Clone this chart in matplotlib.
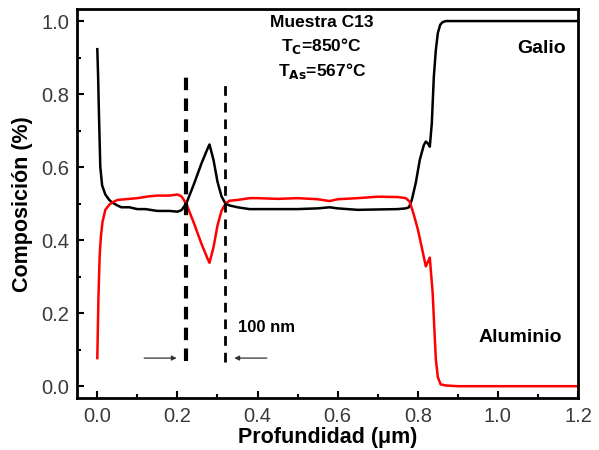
import matplotlib.pyplot as plt

plt.rcParams['font.family'] = ['Liberation Sans', 'DejaVu Sans']

# Galio (negro)
prof_ga = [0.0, 0.002, 0.004, 0.0075, 0.012, 0.02, 0.03, 0.037, 0.05, 0.06, 0.08, 0.1, 0.12,
           0.15, 0.18, 0.2, 0.21, 0.222, 0.24, 0.26, 0.275, 0.28, 0.29, 0.3, 0.31, 0.32, 0.33,
           0.35, 0.38, 0.4, 0.45, 0.5, 0.55, 0.58, 0.6, 0.65, 0.7, 0.75, 0.77, 0.778, 0.785,
           0.795, 0.805, 0.815, 0.82, 0.825, 0.83, 0.835, 0.84, 0.845, 0.85, 0.856, 0.862, 0.87,
           0.9, 1.0, 1.1, 1.2]
comp_ga = [0.923, 0.85, 0.75, 0.6, 0.55, 0.525, 0.51, 0.503, 0.495, 0.49, 0.49, 0.485, 0.485,
           0.48, 0.48, 0.478, 0.482, 0.5, 0.55, 0.61, 0.65, 0.662, 0.62, 0.56, 0.52, 0.5, 0.495,
           0.49, 0.485, 0.485, 0.485, 0.485, 0.487, 0.49, 0.487, 0.483, 0.484, 0.485, 0.487, 0.49, 0.51,
           0.557, 0.62, 0.66, 0.67, 0.665, 0.656, 0.72, 0.847, 0.92, 0.967, 0.99, 0.997, 1.0,
           1.0, 1.0, 1.0, 1.0]

# Aluminio (rojo)
prof_al = [0.0, 0.003, 0.006, 0.009, 0.013, 0.02, 0.03, 0.037, 0.05, 0.07, 0.1, 0.13, 0.15,
           0.18, 0.2, 0.21, 0.222, 0.24, 0.26, 0.275, 0.28, 0.29, 0.3, 0.31, 0.32, 0.33, 0.35,
           0.38, 0.4, 0.45, 0.5, 0.55, 0.58, 0.6, 0.65, 0.7, 0.75, 0.77, 0.78, 0.79, 0.8,
           0.81, 0.82, 0.825, 0.83, 0.837, 0.845, 0.85, 0.857, 0.87, 0.9,
           1.0, 1.1, 1.2]
comp_al = [0.077, 0.25, 0.36, 0.41, 0.45, 0.483, 0.497, 0.503, 0.51, 0.512, 0.515, 0.52, 0.522,
           0.522, 0.525, 0.52, 0.5, 0.45, 0.39, 0.35, 0.338, 0.38, 0.44, 0.48, 0.5, 0.508, 0.51,
           0.515, 0.515, 0.513, 0.515, 0.512, 0.507, 0.512, 0.515, 0.519, 0.518, 0.515, 0.505, 0.47, 0.43,
           0.38, 0.328, 0.34, 0.352, 0.257, 0.074, 0.025, 0.005, 0.002, 0.0,
           0.0, 0.0, 0.0]

fig, ax = plt.subplots(figsize=(5.99, 4.5), dpi=100)
fig.subplots_adjust(left=0.129, right=0.965, top=0.98, bottom=0.115)

ax.plot(prof_ga, comp_ga, color='black', lw=1.8)
ax.plot(prof_al, comp_al, color='red', lw=1.8)

# lineas verticales discontinuas
ax.plot([0.222, 0.222], [0.07, 0.85], color='black', lw=3, ls=(0, (3, 2)))
ax.plot([0.32, 0.32], [0.065, 0.84], color='black', lw=2, ls=(0, (3.5, 2.5)))

ax.annotate('', xy=(0.205, 0.077), xytext=(0.11, 0.077),
            arrowprops=dict(arrowstyle='-|>', color='#333333', lw=0.9, mutation_scale=7))
ax.annotate('', xy=(0.335, 0.077), xytext=(0.43, 0.077),
            arrowprops=dict(arrowstyle='-|>', color='#333333', lw=0.9, mutation_scale=7))

ax.text(0.35, 0.16, '100 nm', fontsize=12, fontweight='bold', va='center')
ax.text(1.11, 0.925, 'Galio', fontsize=14, fontweight='bold', ha='center', va='center')
ax.text(1.055, 0.134, 'Aluminio', fontsize=14, fontweight='bold', ha='center', va='center')
ax.text(0.56, 0.995, 'Muestra C13', fontsize=12.5, fontweight='bold', ha='center', va='center')
ax.text(0.56, 0.932, r'T$_{\mathbf{C}}$=850°C', fontsize=12.5, fontweight='bold', ha='center', va='center')
ax.text(0.56, 0.862, r'T$_{\mathbf{As}}$=567°C', fontsize=12.5, fontweight='bold', ha='center', va='center')

ax.set_xlim(-0.05, 1.2)
ax.set_ylim(-0.033, 1.033)
ax.set_xticks([0.0, 0.2, 0.4, 0.6, 0.8, 1.0, 1.2])
ax.set_xticks([0.1, 0.3, 0.5, 0.7, 0.9, 1.1], minor=True)
ax.set_yticks([0.0, 0.2, 0.4, 0.6, 0.8, 1.0])
ax.set_yticks([0.1, 0.3, 0.5, 0.7, 0.9], minor=True)
ax.tick_params(which='both', direction='in', labelsize=14.5, width=1.5, labelcolor='#3a3a3a')
ax.tick_params(which='major', length=5, pad=6)
ax.tick_params(which='minor', length=3)
for s in ax.spines.values():
    s.set_linewidth(2)

ax.set_xlabel('Profundidad (μm)', fontsize=15.5, fontweight='bold', labelpad=1)
ax.set_ylabel('Composición (%)', fontsize=15.5, fontweight='bold', labelpad=6)

plt.savefig('out.png')
